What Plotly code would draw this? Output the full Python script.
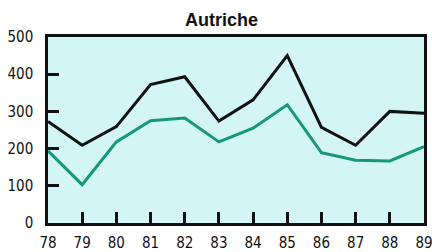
import plotly.graph_objects as go

years = [78, 79, 80, 81, 82, 83, 84, 85, 86, 87, 88, 89]
year_labels = ["78", "79", "80", "81", "82", "83", "84", "85", "86", "87", "88", "89"]
black_series = [273, 209, 259, 372, 393, 274, 331, 450, 257, 209, 300, 295]
green_series = [194, 103, 218, 275, 282, 218, 255, 318, 189, 169, 167, 205]
y_ticks = [0, 100, 200, 300, 400, 500]
title_text = "Autriche"

font_family = "Liberation Sans Narrow, DejaVu Sans Condensed, Arial Narrow, sans-serif"

fig = go.Figure()
fig.add_trace(go.Scatter(x=years, y=green_series, mode="lines",
                         line=dict(color="#15977c", width=3), showlegend=False))
fig.add_trace(go.Scatter(x=years, y=black_series, mode="lines",
                         line=dict(color="#111111", width=3), showlegend=False))

fig.update_layout(
    width=432, height=252,
    margin=dict(l=48, r=8, t=37, b=29, autoexpand=False),
    paper_bgcolor="white",
    plot_bgcolor="#d3f5f6",
    showlegend=False,
)
fig.add_annotation(text="<b>" + title_text + "</b>", xref="paper", yref="paper",
                   x=(221 - 48) / (432 - 48 - 8), y=1.0, yanchor="bottom", yshift=5,
                   showarrow=False, font=dict(family="Liberation Sans, Arial, sans-serif",
                                              size=18, color="#111111"))

fig.update_xaxes(range=[78, 89], tickvals=years, ticktext=year_labels,
                 ticks="inside", ticklen=11, tickwidth=2.5, tickcolor="#111111",
                 showline=True, linewidth=2.5, linecolor="#111111", mirror=True,
                 showgrid=False, zeroline=False, ticklabelstandoff=4, automargin=False,
                 ticklabeloverflow="allow",
                 tickfont=dict(family=font_family, size=15, color="#111111"))
fig.update_yaxes(range=[0, 500], tickvals=y_ticks,
                 ticks="inside", ticklen=11, tickwidth=2.5, tickcolor="#111111",
                 showline=True, linewidth=2.5, linecolor="#111111", mirror=True,
                 showgrid=False, zeroline=False, ticklabelstandoff=9, automargin=False,
                 ticklabeloverflow="allow",
                 tickfont=dict(family=font_family, size=15, color="#111111"))

fig.write_html("out.html", config={"displayModeBar": False},
               post_script="document.body.style.margin='0';document.body.style.padding='0';")
